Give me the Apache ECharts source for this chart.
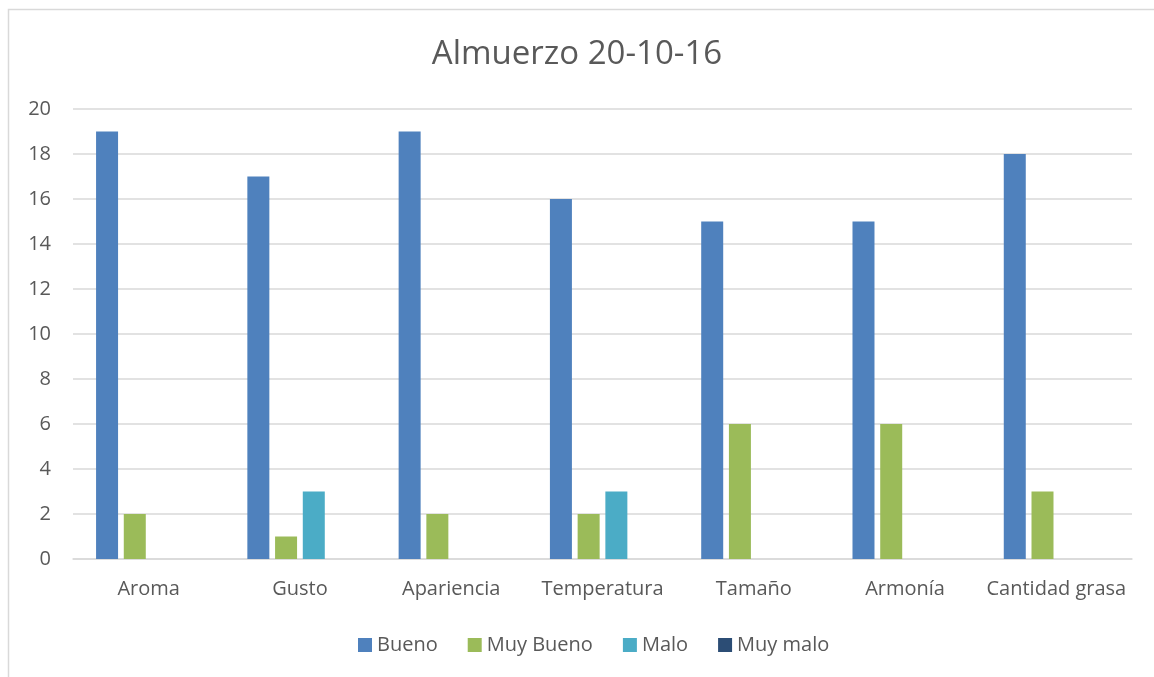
<!DOCTYPE html>
<html><head><meta charset="utf-8">
<script src="https://cdn.jsdelivr.net/npm/echarts@6/dist/echarts.min.js"></script>
<style>html,body{margin:0;padding:0;background:#fff}#c{width:1154px;height:677px}</style>
</head><body><div id="c"></div>
<script>
const categories = ['Aroma','Gusto','Apariencia','Temperatura','Tamaño','Armonía','Cantidad grasa'];
const seriesNames = ['Bueno','Muy Bueno','Malo','Muy malo'];
const bueno = [19,17,19,16,15,15,18];
const muyBueno = [2,1,2,2,6,6,3];
const malo = [0,3,0,3,0,0,0];
const muyMalo = [0,0,0,0,0,0,0];
const colors = ['#4f81bd','#9bbb59','#4bacc6','#2c4d75'];
const values = [bueno, muyBueno, malo, muyMalo];
const font = '"Open Sans", "Liberation Sans", sans-serif';
const chart = echarts.init(document.getElementById('c'));
chart.setOption({
  animation:false,
  title:{text:'Almuerzo 20-10-16',left:'center',top:33,textStyle:{fontFamily:font,fontWeight:'normal',fontSize:33,color:'#595959'}},
  legend:{bottom:17,left:353,itemWidth:14,itemHeight:14,itemGap:30,icon:'rect',
    textStyle:{fontFamily:font,fontSize:20,color:'#595959'},data:seriesNames},
  grid:{left:73,right:22,top:109,bottom:118,containLabel:false},
  xAxis:{type:'category',data:categories,axisLine:{lineStyle:{color:'#d9d9d9',width:1.5}},axisTick:{show:false},
    axisLabel:{interval:0,fontFamily:font,fontSize:20,color:'#595959',margin:20}},
  yAxis:{type:'value',min:0,max:20,interval:2,axisLine:{show:false},axisTick:{show:false},
    splitLine:{lineStyle:{color:'#d9d9d9',width:1.5}},
    axisLabel:{fontFamily:font,fontSize:20,color:'#595959',margin:22}},
  series: seriesNames.map((n,i)=>({name:n,type:'bar',data:values[i],barWidth:22,barGap:'26%',
    itemStyle:{color:colors[i]}})),
  graphic:[{type:'rect',shape:{x:8.5,y:9.5,width:1200,height:700},style:{fill:'none',stroke:'#d9d9d9',lineWidth:1.5},silent:true}]
});
</script></body></html>
